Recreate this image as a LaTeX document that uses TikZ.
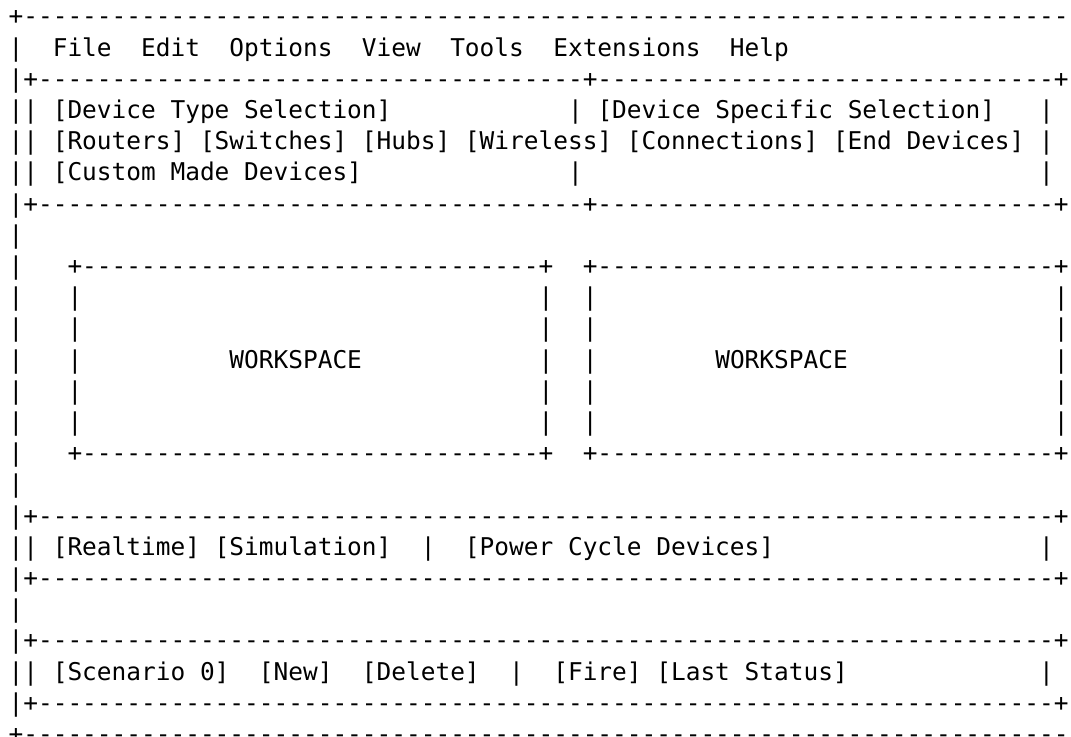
\documentclass[tikz,border=0pt]{standalone}
\usepackage{fontspec}
\setmonofont{DejaVu Sans Mono}
% repeat helpers
\def\rdash#1{\ifnum#1>0 -\expandafter\rdash\expandafter{\the\numexpr#1-1\relax}\fi}
\def\rsp#1{\ifnum#1>0 \space\expandafter\rsp\expandafter{\the\numexpr#1-1\relax}\fi}
\def\colx{8.64}
\tikzset{
  asciiline/.style={anchor=base west, inner sep=0pt, outer sep=0pt,
    font=\ttfamily\fontsize{18.34pt}{22pt}\selectfont\frenchspacing, text=black}
}
\begin{document}
\begin{tikzpicture}[x=0.75pt,y=-0.75pt]
\useasboundingbox[fill=white] (0,0) rectangle (1071,736);
\begin{scope}
\clip (0,0) rectangle (1071,736);
\node[asciiline] (L0)  at (\colx,{24.8+31.2*0})  {+\rdash{71}};
\node[asciiline] (L1)  at (\colx,{24.8+31.2*1})  {|\rsp{2}File\rsp{2}Edit\rsp{2}Options\rsp{2}View\rsp{2}Tools\rsp{2}Extensions\rsp{2}Help};
\node[asciiline] (L2)  at (\colx,{24.8+31.2*2})  {|+\rdash{37}+\rdash{31}+};
\node[asciiline] (L3)  at (\colx,{24.8+31.2*3})  {||\rsp{1}[Device Type Selection]\rsp{12}|\rsp{1}[Device Specific Selection]\rsp{3}|};
\node[asciiline] (L4)  at (\colx,{24.8+31.2*4})  {||\rsp{1}[Routers] [Switches] [Hubs] [Wireless] [Connections] [End Devices]\rsp{1}|};
\node[asciiline] (L5)  at (\colx,{24.8+31.2*5})  {||\rsp{1}[Custom Made Devices]\rsp{14}|\rsp{31}|};
\node[asciiline] (L6)  at (\colx,{24.8+31.2*6})  {|+\rdash{37}+\rdash{31}+};
\node[asciiline] (L7)  at (\colx,{24.8+31.2*7})  {|};
\node[asciiline] (L8)  at (\colx,{24.8+31.2*8})  {|\rsp{3}+\rdash{31}+\rsp{2}+\rdash{31}+};
\node[asciiline] (L9)  at (\colx,{24.8+31.2*9})  {|\rsp{3}|\rsp{31}|\rsp{2}|\rsp{31}|};
\node[asciiline] (L10) at (\colx,{24.8+31.2*10}) {|\rsp{3}|\rsp{31}|\rsp{2}|\rsp{31}|};
\node[asciiline] (L11) at (\colx,{24.8+31.2*11}) {|\rsp{3}|\rsp{10}WORKSPACE\rsp{12}|\rsp{2}|\rsp{8}WORKSPACE\rsp{14}|};
\node[asciiline] (L12) at (\colx,{24.8+31.2*12}) {|\rsp{3}|\rsp{31}|\rsp{2}|\rsp{31}|};
\node[asciiline] (L13) at (\colx,{24.8+31.2*13}) {|\rsp{3}|\rsp{31}|\rsp{2}|\rsp{31}|};
\node[asciiline] (L14) at (\colx,{24.8+31.2*14}) {|\rsp{3}+\rdash{31}+\rsp{2}+\rdash{31}+};
\node[asciiline] (L15) at (\colx,{24.8+31.2*15}) {|};
\node[asciiline] (L16) at (\colx,{24.8+31.2*16}) {|+\rdash{69}+};
\node[asciiline] (L17) at (\colx,{24.8+31.2*17}) {||\rsp{1}[Realtime] [Simulation]\rsp{2}|\rsp{2}[Power Cycle Devices]\rsp{18}|};
\node[asciiline] (L18) at (\colx,{24.8+31.2*18}) {|+\rdash{69}+};
\node[asciiline] (L19) at (\colx,{24.8+31.2*19}) {|};
\node[asciiline] (L20) at (\colx,{24.8+31.2*20}) {|+\rdash{69}+};
\node[asciiline] (L21) at (\colx,{24.8+31.2*21}) {||\rsp{1}[Scenario 0]\rsp{2}[New]\rsp{2}[Delete]\rsp{2}|\rsp{2}[Fire] [Last Status]\rsp{13}|};
\node[asciiline] (L22) at (\colx,{24.8+31.2*22}) {|+\rdash{69}+};
\node[asciiline] (L23) at (\colx,{24.8+31.2*23}) {+\rdash{71}};
\end{scope}
\end{tikzpicture}
\end{document}
